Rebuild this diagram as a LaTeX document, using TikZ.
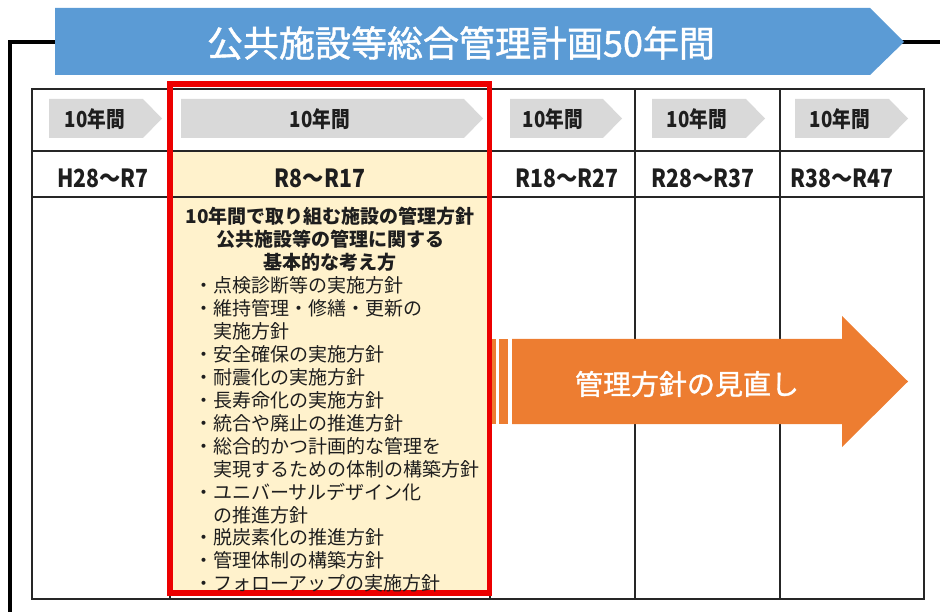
\documentclass[tikz,border=0pt]{standalone}
\usepackage{fontspec}
\setmainfont{Noto Sans CJK JP}
\newfontfamily\jp{Noto Sans CJK JP}
\newfontfamily\jpm[FakeBold=1.2]{Noto Sans CJK JP}
\newfontfamily\jpn[FakeStretch=0.85]{Noto Sans CJK JP}
\definecolor{bannerblue}{RGB}{91,155,213}
\definecolor{chevgray}{RGB}{217,217,217}
\definecolor{paleyellow}{RGB}{255,242,204}
\definecolor{boxred}{RGB}{236,0,0}
\definecolor{arroworange}{RGB}{237,125,49}
\definecolor{inkdark}{RGB}{30,30,30}
\tikzset{
  frameline/.style={line width=4.5pt, black},
  tblline/.style={line width=1.2pt, black!85},
  chev/.style={fill=chevgray, draw=none},
  hdrtxt/.style={inner sep=0pt, text=inkdark, font=\jpn\bfseries\fontsize{22}{24}\selectfont},
  pertxt/.style={inner sep=0pt, text=inkdark, font=\jpn\bfseries\fontsize{25}{28}\selectfont},
  headtxt/.style={inner sep=0pt, anchor=base, text=inkdark, font=\jp\bfseries\fontsize{19}{23}\selectfont},
  itemtxt/.style={inner sep=0pt, anchor=base west, text=inkdark, font=\jp\fontsize{19}{23}\selectfont},
}
\begin{document}
\begin{tikzpicture}[x=1pt,y=-1pt]
\useasboundingbox (0,0) rectangle (940,612);
% outer frame
\coordinate (fb) at (10,614);
\coordinate (fl) at (60,42);
\coordinate (fr1) at (900,42);
\coordinate (fr2) at (942,42);
\draw[frameline] (fb) |- (fl);
\draw[frameline] (fr1) -- (fr2);
% banner
\fill[bannerblue] (55,8) -- (870,8) -- (904,42) -- (870,75) -- (55,75) -- cycle;
\node[inner sep=0pt, text=white, font=\jpm\fontsize{36}{40}\selectfont] (title) at (461,43) {公共施設等総合管理計画50年間};
% yellow column
\fill[paleyellow] (170,151) rectangle (489.5,592.5);
% chevrons
\fill[chev] (49,99) -- (143,99) -- (162,118.5) -- (143,138) -- (49,138) -- cycle;
\fill[chev] (181,99) -- (464,99) -- (483,118.5) -- (464,138) -- (181,138) -- cycle;
\fill[chev] (510,99) -- (603,99) -- (622,118.5) -- (603,138) -- (510,138) -- cycle;
\fill[chev] (652,99) -- (746,99) -- (765,118.5) -- (746,138) -- (652,138) -- cycle;
\fill[chev] (795,99) -- (889,99) -- (908,118.5) -- (889,138) -- (795,138) -- cycle;
\node[hdrtxt] (h1) at (95,119) {10年間};
\node[hdrtxt] (h2) at (320,119) {10年間};
\node[hdrtxt] (h3) at (553,119) {10年間};
\node[hdrtxt] (h4) at (697,119) {10年間};
\node[hdrtxt] (h5) at (840,119) {10年間};
% table lines
\draw[tblline] (32,89) rectangle (924,599);
\draw[tblline] (32,151) -- (924,151);
\draw[tblline] (32,197) -- (924,197);
\foreach \cx in {170,490,635,780} { \draw[tblline] (\cx,89) -- (\cx,599); }
% period labels
\node[pertxt] (p1) at (103,178) {H28～R7};
\node[pertxt] (p2) at (320,178) {R8～R17};
\node[pertxt] (p3) at (567,178) {R18～R27};
\node[pertxt] (p4) at (703,178) {R28～R37};
\node[pertxt] (p5) at (842,178) {R38～R47};
% red highlight box
\draw[boxred, line width=5.5pt] (170,84) rectangle (489.5,593);
% heading lines
\node[headtxt] (l0) at (330,224) {10年間で取り組む施設の管理方針};
\node[headtxt] (l1) at (330,247) {公共施設等の管理に関する};
\node[headtxt] (l2) at (330,269.5) {基本的な考え方};
% items
\node[itemtxt] (l3) at (194,292.5) {・点検診断等の実施方針};
\node[itemtxt] (l4) at (194,315.5) {・維持管理・修繕・更新の};
\node[itemtxt] (l5) at (213,338.5) {実施方針};
\node[itemtxt] (l6) at (194,361.5) {・安全確保の実施方針};
\node[itemtxt] (l7) at (194,384.5) {・耐震化の実施方針};
\node[itemtxt] (l8) at (194,407) {・長寿命化の実施方針};
\node[itemtxt] (l9) at (194,430) {・統合や廃止の推進方針};
\node[itemtxt] (l10) at (194,453) {・総合的かつ計画的な管理を};
\node[itemtxt] (l11) at (213,476) {実現するための体制の構築方針};
\node[itemtxt] (l12) at (194,499) {・ユニバーサルデザイン化};
\node[itemtxt] (l13) at (213,522) {の推進方針};
\node[itemtxt] (l14) at (194,544.5) {・脱炭素化の推進方針};
\node[itemtxt] (l15) at (194,567.5) {・管理体制の構築方針};
\node[itemtxt] (l16) at (194,590) {・フォローアップの実施方針};
% orange arrow
\fill[arroworange] (492,339) rectangle (495.5,424);
\fill[arroworange] (499,339) rectangle (507.5,424);
\fill[arroworange] (512,339) -- (842,339) -- (842,316) -- (908,381.5) -- (842,447) -- (842,424) -- (512,424) -- cycle;
\node[inner sep=0pt, text=white, font=\jpm\fontsize{28}{32}\selectfont] (review) at (687,384) {管理方針の見直し};
\end{tikzpicture}
\end{document}
